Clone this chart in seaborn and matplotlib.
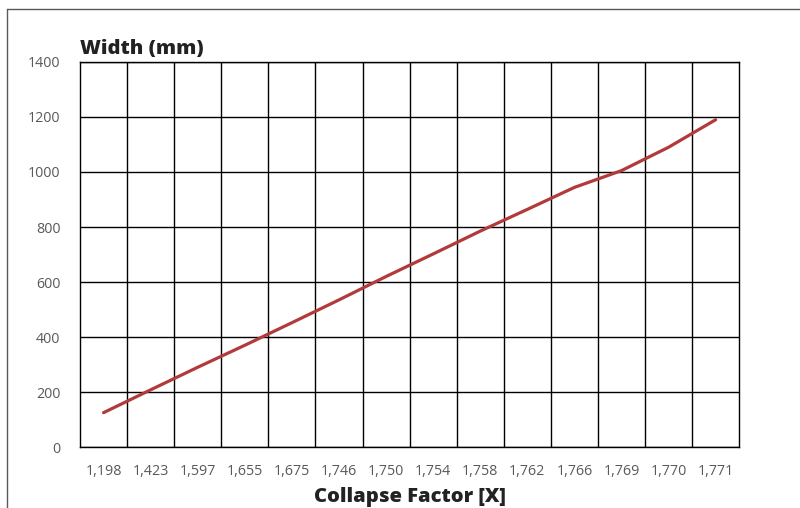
import matplotlib
matplotlib.use("Agg")
import matplotlib.pyplot as plt
import seaborn as sns
import pandas as pd
from matplotlib.lines import Line2D

# Data
collapse_factor = ["1,198", "1,423", "1,597", "1,655", "1,675", "1,746", "1,750",
                   "1,754", "1,758", "1,762", "1,766", "1,769", "1,770", "1,771"]
width_mm = [125, 208, 290, 370, 452, 535, 620, 702, 785, 864, 944, 1005, 1090, 1190]

df = pd.DataFrame({"pos": range(len(collapse_factor)), "width": width_mm})

sns.set_theme(style="white")
plt.rcParams["font.family"] = ["Open Sans", "DejaVu Sans"]

fig = plt.figure(figsize=(8, 5.08), dpi=100)
ax = fig.add_axes([0.1, 0.12, 0.824, 0.758])

sns.lineplot(data=df, x="pos", y="width", color="#b33a3a", linewidth=2.3, ax=ax)

ax.set_xlim(-0.5, len(collapse_factor) - 0.5)
ax.set_ylim(0, 1400)
ax.set_yticks(range(0, 1401, 200))
ax.set_xticks(range(len(collapse_factor)))
ax.set_xticklabels(collapse_factor)
ax.set_xticks([i + 0.5 for i in range(len(collapse_factor) - 1)], minor=True)

ax.grid(True, which="major", axis="y", color="black", linewidth=1)
ax.grid(True, which="minor", axis="x", color="black", linewidth=1)
ax.grid(False, which="major", axis="x")
for s in ax.spines.values():
    s.set_visible(True)
    s.set_color("black")
    s.set_linewidth(1)

ax.tick_params(axis="both", which="both", length=0, labelsize=10.3, colors="#595959")
ax.tick_params(axis="x", pad=12)
ax.tick_params(axis="y", pad=14)

ax.set_xlabel("Collapse Factor [X]", fontsize=14.5, fontweight=800, color="#222222", va="center")
ax.xaxis.set_label_coords(0.5, -0.13)
ax.set_ylabel("")
ax.set_title("Width (mm)", loc="left", fontsize=14.5, fontweight=800, color="#222222", pad=6)

# outer frame (left and top edges)
fig.add_artist(Line2D([7 / 800, 7 / 800], [0, 1 - 9 / 508], transform=fig.transFigure,
                      color="#595959", linewidth=1))
fig.add_artist(Line2D([7 / 800, 1], [1 - 9 / 508, 1 - 9 / 508], transform=fig.transFigure,
                      color="#595959", linewidth=1))

fig.savefig("out.png", dpi=100, facecolor="white")
